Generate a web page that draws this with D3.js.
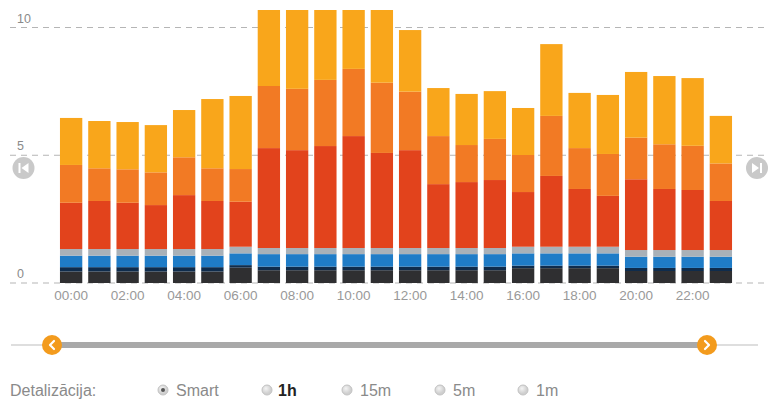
<!DOCTYPE html>
<html>
<head>
<meta charset="utf-8">
<script src="https://cdn.jsdelivr.net/npm/d3@7"></script>
<style>
  body { margin: 0; background: #fff; }
  svg { display: block; font-family: "Liberation Sans", Arial, sans-serif; }
</style>
</head>
<body>
<svg id="chart" width="768" height="400"></svg>
<script>
// hours of the day
const hours = d3.range(0, 24);

// stacked series, bottom to top
const charcoal = [0.45,0.45,0.45,0.45,0.45,0.45,0.6,0.5,0.5,0.5,0.5,0.5,0.5,0.5,0.5,0.5,0.58,0.58,0.58,0.58,0.47,0.47,0.47,0.47];
const navy     = [0.17,0.17,0.17,0.17,0.17,0.17,0.1,0.14,0.14,0.14,0.14,0.14,0.14,0.14,0.14,0.14,0.1,0.1,0.1,0.1,0.12,0.12,0.12,0.12];
const blue     = [0.45,0.45,0.45,0.45,0.45,0.45,0.46,0.49,0.49,0.49,0.49,0.49,0.49,0.49,0.49,0.49,0.48,0.48,0.48,0.48,0.44,0.44,0.44,0.44];
const grey     = [0.26,0.26,0.26,0.26,0.26,0.26,0.26,0.24,0.24,0.24,0.24,0.24,0.24,0.24,0.24,0.24,0.26,0.26,0.26,0.26,0.26,0.26,0.26,0.26];
const red      = [1.81,1.88,1.81,1.72,2.11,1.88,1.76,3.91,3.83,3.99,4.38,3.72,3.83,2.5,2.58,2.66,2.14,2.77,2.26,1.99,2.77,2.39,2.35,1.92];
const orange   = [1.48,1.28,1.31,1.28,1.48,1.28,1.28,2.43,2.4,2.59,2.63,2.75,2.29,1.88,1.45,1.61,1.45,2.35,1.6,1.64,1.63,1.75,1.73,1.47];
const yellow   = [1.84,1.85,1.85,1.85,1.85,2.71,2.86,3.9,3.8,3.85,3.72,3.66,2.41,1.88,2.0,1.87,1.84,2.81,2.16,2.31,2.57,2.67,2.65,1.86];

const yTicks = [0, 5, 10];
const detailOptions = ["Smart", "1h", "15m", "5m", "1m"];

const seriesKeys = ["charcoal","navy","blue","grey","red","orange","yellow"];
const seriesData = { charcoal, navy, blue, grey, red, orange, yellow };
const colors = {
  charcoal: "#2f2f31", navy: "#0f2c4c", blue: "#1f7cc7", grey: "#a9b1b8",
  red: "#e2431c", orange: "#f27a24", yellow: "#f9a61b"
};

const table = hours.map((h, i) => {
  const row = { hour: h };
  seriesKeys.forEach(k => row[k] = seriesData[k][i]);
  return row;
});

const svg = d3.select("#chart");

const x = d3.scaleBand()
  .domain(hours)
  .range([57, 735])
  .paddingInner(0.21)
  .paddingOuter(0.105);

const y = d3.scaleLinear()
  .domain([0, 10])
  .range([283, 27.5]);

// gridlines + y labels
const grid = svg.append("g");
grid.selectAll("line")
  .data(yTicks)
  .join("line")
  .attr("x1", 10).attr("x2", 768)
  .attr("y1", d => y(d)).attr("y2", d => y(d))
  .attr("stroke", "#b5b5b5")
  .attr("stroke-width", 1)
  .attr("stroke-dasharray", "6,5");
grid.selectAll("text")
  .data(yTicks)
  .join("text")
  .attr("x", 17)
  .attr("y", d => y(d) - 5)
  .attr("fill", "#8a8a8a")
  .style("font-size", "12.5px")
  .text(d => d);

// clip bars at top of plot
svg.append("clipPath").attr("id", "plot")
  .append("rect").attr("x", 0).attr("y", 10).attr("width", 768).attr("height", 273);

const stack = d3.stack().keys(seriesKeys)(table);

svg.append("g")
  .attr("clip-path", "url(#plot)")
  .selectAll("g")
  .data(stack)
  .join("g")
  .attr("fill", d => colors[d.key])
  .selectAll("rect")
  .data(d => d)
  .join("rect")
  .attr("x", d => x(d.data.hour))
  .attr("width", x.bandwidth())
  .attr("y", d => y(d[1]))
  .attr("height", d => y(d[0]) - y(d[1]));

// x axis
const xAxis = svg.append("g")
  .attr("transform", "translate(0,287)")
  .call(d3.axisBottom(x)
    .tickValues(hours.filter(h => h % 2 === 0))
    .tickFormat(h => d3.format("02")(h) + ":00")
    .tickSize(0));
xAxis.select(".domain").remove();
xAxis.selectAll("text")
  .attr("fill", "#999")
  .style("font-size", "13.5px")
  .style("font-family", "\"Liberation Sans\", Arial, sans-serif");

// side navigation buttons
function navButton(cx, dir) {
  const g = svg.append("g").attr("transform", `translate(${cx},168)`);
  g.append("circle").attr("r", 11).attr("fill", "#c9c9c9");
  g.append("rect").attr("x", dir < 0 ? -5 : 3).attr("y", -5).attr("width", 2).attr("height", 10).attr("fill", "#fff");
  g.append("path")
    .attr("d", dir < 0 ? "M-2,0 L5,-5 L5,5 Z" : "M2,0 L-5,-5 L-5,5 Z")
    .attr("fill", "#fff");
}
navButton(23.5, -1);
navButton(757, 1);

// range slider
const slider = svg.append("g");
slider.append("line").attr("x1", 11).attr("x2", 758).attr("y1", 345).attr("y2", 345)
  .attr("stroke", "#bdbdbd").attr("stroke-width", 1);
slider.append("line").attr("x1", 52).attr("x2", 707).attr("y1", 345).attr("y2", 345)
  .attr("stroke", "#a9a9a9").attr("stroke-width", 6);
[[52, -1], [707, 1]].forEach(([cx, d]) => {
  const g = slider.append("g").attr("transform", `translate(${cx},345)`);
  g.append("circle").attr("r", 10).attr("fill", "#f39b1d");
  g.append("path")
    .attr("d", d < 0 ? "M2,-4 L-2,0 L2,4" : "M-2,-4 L2,0 L-2,4")
    .attr("fill", "none").attr("stroke", "#fff").attr("stroke-width", 2.2)
    .attr("stroke-linecap", "round").attr("stroke-linejoin", "round");
});

// detail options
const opts = svg.append("g");
opts.append("text")
  .attr("x", 10).attr("y", 396)
  .attr("fill", "#8a8a8a")
  .style("font-size", "16px")
  .text("Detalizācija:");

const optX = [163, 267, 347, 440, 523];
const defs = svg.append("defs");
const grad = defs.append("radialGradient").attr("id", "radio").attr("cx", "40%").attr("cy", "35%");
grad.append("stop").attr("offset", "0%").attr("stop-color", "#f4f4f4");
grad.append("stop").attr("offset", "100%").attr("stop-color", "#cfcfcf");

detailOptions.forEach((o, i) => {
  const g = opts.append("g").attr("transform", `translate(${optX[i]},390)`);
  g.append("circle").attr("r", 5).attr("fill", "url(#radio)").attr("stroke", "#c2c2c2");
  if (i === 0) g.append("circle").attr("r", 2).attr("fill", "#555");
  g.append("text")
    .attr("x", o === "1h" ? 11 : 13).attr("y", 6)
    .attr("fill", o === "1h" ? "#222" : "#8a8a8a")
    .style("font-weight", o === "1h" ? "bold" : "normal")
    .style("font-size", "16px")
    .text(o);
});
</script>
</body>
</html>
